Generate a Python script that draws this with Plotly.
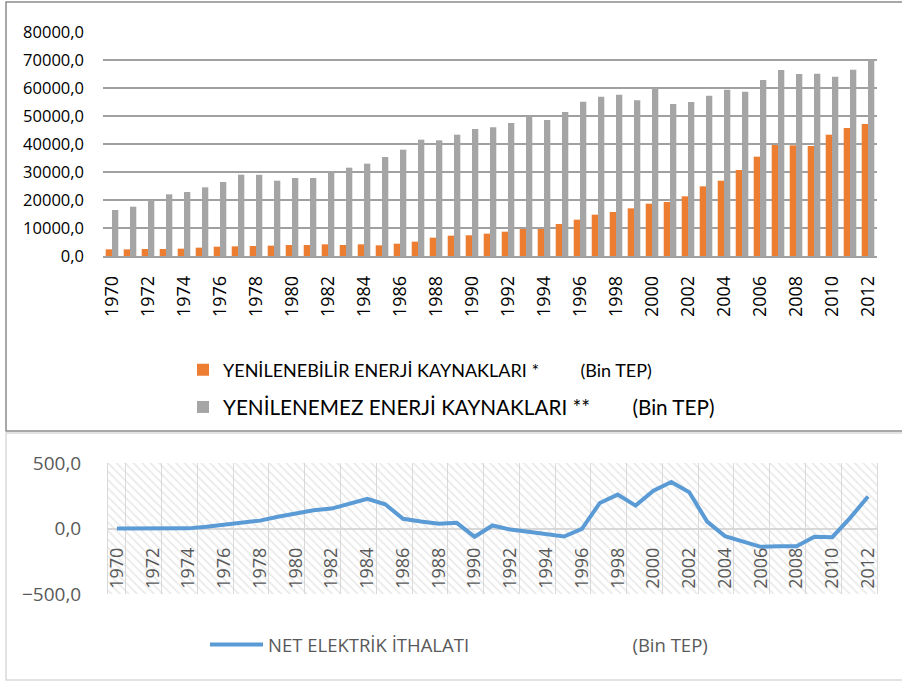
import plotly.graph_objects as go

W, H = 902, 682

years = list(range(1970, 2013))

renewable = [2380, 2380, 2500, 2500, 2620, 2980, 3330, 3450, 3570, 3690,
             3930, 3930, 4170, 3930, 4170, 3810, 4400, 5120, 6550, 7260,
             7400, 7980, 8690, 9640, 9640, 11430, 12980, 14760, 15710, 17020,
             18690, 19290, 21310, 24880, 26900, 30710, 35480, 39640, 39520, 39290,
             43330, 45710, 47140]

nonrenewable = [16430, 17620, 20000, 22020, 22860, 24520, 26430, 29050, 29000, 26900,
                27860, 27860, 30240, 31550, 32980, 35360, 37980, 41550, 41310, 43330,
                45360, 45950, 47500, 49880, 48570, 51430, 55120, 56900, 57620, 55600,
                60000, 54290, 55000, 57260, 59400, 58690, 62860, 66430, 65000, 65120,
                64050, 66550, 70000]

net_import = [0, 0, 0, 0, 1, 13, 30, 45, 60, 90,
              115, 140, 152, 190, 226, 185, 74, 53, 36, 43,
              -63, 23, -8, -25, -41, -61, -3, 195, 259, 175,
              289, 355, 277, 53, -58, -99, -140, -135, -135, -63,
              -66, 81, 244]

name_ren = "YENİLENEBİLİR ENERJİ KAYNAKLARI *"
name_non = "YENİLENEMEZ ENERJİ KAYNAKLARI **"
name_net = "NET ELEKTRİK İTHALATI"
unit = "(Bin TEP)"

top_range = [0, 80000]
bot_range = [-500, 500]

def px_x(p):
    return p / W

def px_y(p):
    return 1 - p / H

NB = "\u00a0"

fig = go.Figure()

fig.add_trace(go.Bar(
    x=years, y=renewable, name=name_ren + NB * 9 + unit,
    marker=dict(color="#ED7D31", line=dict(width=0)),
    xaxis="x", yaxis="y", legend="legend"))
fig.add_trace(go.Bar(
    x=years, y=nonrenewable, name=name_non + NB * 8 + unit,
    marker=dict(color="#A5A5A5", line=dict(width=0)),
    xaxis="x", yaxis="y", legend="legend2"))

# hatched background of the lower chart
fig.add_trace(go.Bar(
    x=years, y=[bot_range[1] - bot_range[0]] * len(years), base=bot_range[0],
    width=1, showlegend=False, hoverinfo="skip",
    marker=dict(color="rgba(0,0,0,0)", line=dict(width=0),
                pattern=dict(shape="\\", fgcolor="#D3D3D3", size=6,
                             solidity=0.28, fillmode="overlay")),
    xaxis="x2", yaxis="y2"))

fig.add_trace(go.Scatter(
    x=years, y=net_import, mode="lines", name=name_net + NB * 34 + unit,
    line=dict(color="#5B9BD5", width=4),
    xaxis="x2", yaxis="y2", legend="legend3"))

font_family = "Open Sans"
xr = [years[0] - 0.5, years[-1] + 0.5]

fig.update_layout(
    width=W, height=H,
    margin=dict(l=0, r=0, t=0, b=0, pad=0, autoexpand=False),
    paper_bgcolor="white", plot_bgcolor="rgba(0,0,0,0)",
    separators=",.",
    barmode="group", bargap=0.3, bargroupgap=0,
    font=dict(family=font_family, color="#000000"),
    xaxis=dict(
        domain=[px_x(103), px_x(877)], anchor="y", automargin=False,
        range=xr,
        tickmode="linear", tick0=1970, dtick=2, tickformat="d",
        tickangle=-90, ticks="outside", ticklen=11, tickcolor="rgba(0,0,0,0)",
        tickfont=dict(size=18, color="#000000"),
        showgrid=False, zeroline=False,
        showline=True, linecolor="#A0A0A0", linewidth=1.5,
    ),
    yaxis=dict(
        domain=[px_y(256), px_y(32)], anchor="x", automargin=False,
        range=top_range, dtick=10000, tickformat=".1f",
        tickfont=dict(size=16.5, color="#000000"),
        ticklabelstandoff=18,
        showgrid=True, gridcolor="#A0A0A0", gridwidth=1.5,
        zeroline=False, showline=False,
    ),
    xaxis2=dict(
        domain=[px_x(108), px_x(877)], anchor="free", position=px_y(543),
        automargin=False,
        range=xr,
        tickmode="linear", tick0=1970, dtick=2, tickformat="d",
        tickangle=-90, ticks="", showline=False,
        tickfont=dict(size=18, color="#595959"),
        showgrid=False, zeroline=False,
        minor=dict(tick0=1970.5, dtick=2, showgrid=True,
                   gridcolor="#D9D9D9", gridwidth=1, ticks=""),
    ),
    yaxis2=dict(
        domain=[px_y(594), px_y(463)], anchor="x2", automargin=False,
        range=bot_range, dtick=500, tickformat=".1f",
        tickfont=dict(size=19, color="#595959"),
        ticklabelstandoff=22,
        showgrid=True, gridcolor="#D9D9D9", gridwidth=1,
        zeroline=True, zerolinecolor="#D9D9D9", zerolinewidth=2,
        showline=True, mirror=True, linecolor="#D9D9D9", linewidth=1,
    ),
    legend=dict(x=px_x(183), y=px_y(370), xanchor="left", yanchor="middle",
                font=dict(family="Lato", size=18, color="#000000"),
                bgcolor="rgba(0,0,0,0)", borderwidth=0),
    legend2=dict(x=px_x(183), y=px_y(407), xanchor="left", yanchor="middle",
                 font=dict(family="Lato", size=20.7, color="#000000"),
                 bgcolor="rgba(0,0,0,0)", borderwidth=0),
    legend3=dict(x=px_x(205), y=px_y(645), xanchor="left", yanchor="middle",
                 font=dict(family=font_family, size=18.5, color="#595959"),
                 itemwidth=53,
                 bgcolor="rgba(0,0,0,0)", borderwidth=0),
    shapes=[
        dict(type="rect", xref="paper", yref="paper",
             x0=px_x(6), x1=1.02, y0=px_y(431), y1=px_y(2),
             line=dict(color="#8C8C8C", width=1.5), layer="below"),
        dict(type="rect", xref="paper", yref="paper",
             x0=px_x(6), x1=1.02, y0=px_y(680), y1=px_y(433),
             line=dict(color="#D9D9D9", width=1.5), layer="below"),
    ],
)

fig.write_html(
    "out.html",
    config={"displayModeBar": False},
    post_script="document.body.style.margin='0';document.body.style.overflow='hidden';",
)
